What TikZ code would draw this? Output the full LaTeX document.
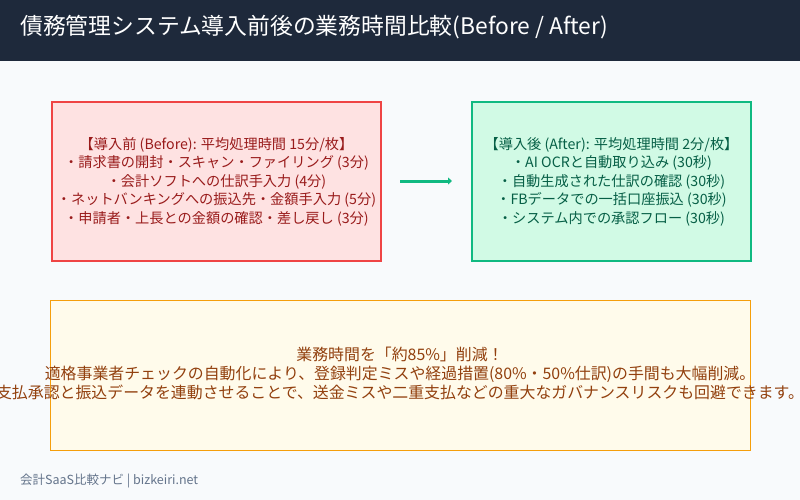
\documentclass[tikz,border=0pt]{standalone}
\usepackage{fontspec}
\setmainfont{Noto Sans CJK JP}
\usetikzlibrary{arrows.meta}
\definecolor{bg}{HTML}{F8FAFC}
\definecolor{head}{HTML}{1E293B}
\definecolor{redfill}{HTML}{FEE2E2}
\definecolor{redline}{HTML}{EF4444}
\definecolor{redtext}{HTML}{991B1B}
\definecolor{greenfill}{HTML}{D1FAE5}
\definecolor{greenline}{HTML}{10B981}
\definecolor{greentext}{HTML}{065F46}
\definecolor{amberfill}{HTML}{FFFBEB}
\definecolor{amberline}{HTML}{F59E0B}
\definecolor{ambertext}{HTML}{92400E}
\definecolor{foot}{HTML}{64748B}
\tikzset{
  box/.style={draw, line width=2pt},
  boxtext/.style={align=center, font=\fontsize{14.2}{18.5}\selectfont, inner sep=0pt},
}
\begin{document}
\begin{tikzpicture}[x=1pt,y=-1pt]
\useasboundingbox (0,0) rectangle (800,500);
\fill[bg] (0,0) rectangle (800,500);
\fill[head] (0,0) rectangle (800,61);
\node[anchor=west, text=white, font=\fontsize{22.8}{26}\selectfont, inner sep=0pt] (title) at (20,27) {債務管理システム導入前後の業務時間比較(Before / After)};
\node[box, draw=redline, fill=redfill, minimum width=329pt, minimum height=159pt, anchor=north west] (before) at (51,101) {};
\node[boxtext, text=redtext] (beforet) at (before.center) {【導入前 (Before): 平均処理時間 15分/枚】\\・請求書の開封・スキャン・ファイリング (3分)\\・会計ソフトへの仕訳手入力 (4分)\\・ネットバンキングへの振込先・金額手入力 (5分)\\・申請者・上長との金額の確認・差し戻し (3分)};
\node[box, draw=greenline, fill=greenfill, minimum width=279pt, minimum height=159pt, anchor=north west] (after) at (471,101) {};
\node[boxtext, text=greentext] (aftert) at (after.center) {【導入後 (After): 平均処理時間 2分/枚】\\・AI OCRと自動取り込み (30秒)\\・自動生成された仕訳の確認 (30秒)\\・FBデータでの一括口座振込 (30秒)\\・システム内での承認フロー (30秒)};
\coordinate (a1) at (400,181);
\coordinate (a2) at (452,181);
\draw[greenline, line width=3pt, -{Triangle[length=4pt,width=7pt]}] (a1) -- (a2);
\node[draw=amberline, fill=amberfill, line width=1pt, minimum width=700pt, minimum height=150pt, anchor=north west] (sum) at (50,300) {};
\node[align=center, text=ambertext, font=\fontsize{15.9}{19}\selectfont, inner sep=0pt] (sumt) at (400,373) {業務時間を「約85\%」削減！\\適格事業者チェックの自動化により、登録判定ミスや経過措置(80\%・50\%仕訳)の手間も大幅削減。\\支払承認と振込データを連動させることで、送金ミスや二重支払などの重大なガバナンスリスクも回避できます。};
\node[anchor=west, text=foot, font=\fontsize{12.5}{14}\selectfont, inner sep=0pt] (footer) at (20,481) {会計SaaS比較ナビ | bizkeiri.net};
\end{tikzpicture}
\end{document}
